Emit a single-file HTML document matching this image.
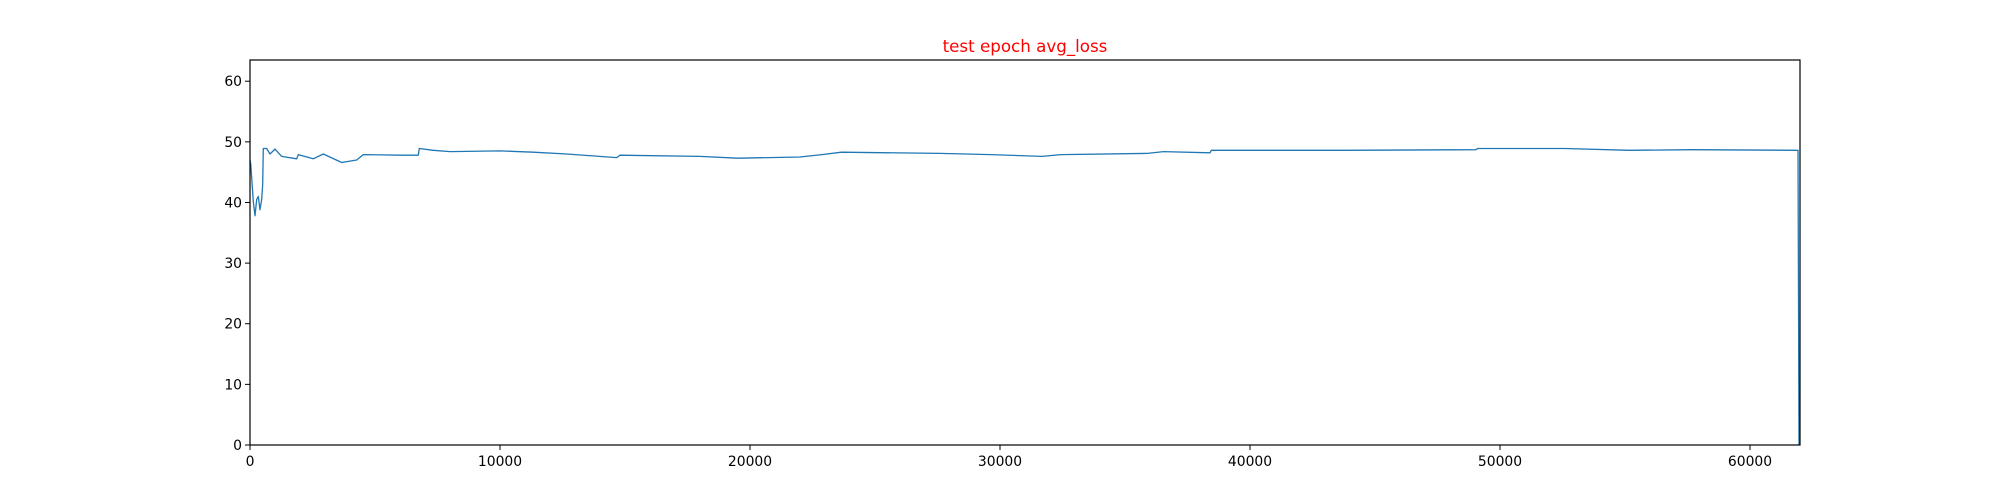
<!DOCTYPE html>
<html><head><meta charset="utf-8"><style>
html,body{margin:0;padding:0;background:#fff;}
svg{display:block;font-family:"DejaVu Sans","Liberation Sans",sans-serif;}
</style></head><body>
<svg id="chart" width="2000" height="500" xmlns="http://www.w3.org/2000/svg">
<rect x="0" y="0" width="2000" height="500" fill="#fff"/>
<text x="1025" y="52" font-size="16.7" fill="red" text-anchor="middle">test epoch avg_loss</text>
<g id="plot"></g>
<rect x="250" y="60" width="1550" height="385" fill="none" stroke="#000" stroke-width="1.2"/>
</svg>
<script>
const xTicks = [0,10000,20000,30000,40000,50000,60000];
const yTicks = [0,10,20,30,40,50,60];
const stepX = [0,27,67,133,200,267,333,400,467,507,533,667,800,1000,1267,1867,1933,2533,2933,3667,4267,4533,6000,6733,6773,7333,8000,10000,11333,12667,14667,14800,18000,19500,22000,22880,23660,27600,29640,31680,32440,35900,36540,38400,38450,43700,49040,49100,52600,55160,57720,61920,61958];
const lossY = [47,46.4,44,40.2,37.8,40.5,41,38.8,40.5,43,48.9,48.9,48,48.8,47.6,47.2,47.9,47.2,48,46.6,47,47.9,47.8,47.8,48.9,48.6,48.4,48.5,48.3,48.0,47.4,47.8,47.6,47.3,47.5,47.9,48.3,48.1,47.9,47.6,47.9,48.1,48.4,48.2,48.6,48.6,48.7,48.9,48.9,48.6,48.7,48.6,0];
const L=250,R=1800,T=60,B=445,XMAX=62000,YMAX=63.5;
const sx=v=>L+(v/XMAX)*(R-L);
const sy=v=>B-(v/YMAX)*(B-T);
const NS="http://www.w3.org/2000/svg";
const g=document.getElementById('plot');
function mk(t,a){const e=document.createElementNS(NS,t);for(const k in a)e.setAttribute(k,a[k]);g.appendChild(e);return e;}
xTicks.forEach(v=>{
  const l=mk('line',{x1:sx(v),x2:sx(v),y1:B,y2:B+5,stroke:'#000','stroke-width':1});
  
  
  const t=mk('text',{x:sx(v),y:466,'font-size':13.9,'text-anchor':'middle',fill:'#000'});
  t.textContent=v;
  
  
});
yTicks.forEach(v=>{
  const l=mk('line',{x1:L-5,x2:L,y1:sy(v),y2:sy(v),stroke:'#000','stroke-width':1});
  
  
  const t=mk('text',{x:L-8,y:sy(v)+5,'font-size':13.9,'text-anchor':'end',fill:'#000'});
  t.textContent=v;
  
  
});
const pts=stepX.map((x,i)=>sx(x).toFixed(1)+','+sy(lossY[i]).toFixed(1)).join(' ');
const p=mk('polyline',{points:pts,fill:'none',stroke:'#1f77b4','stroke-width':1.3,'stroke-linejoin':'round'});


</script>
</body></html>
